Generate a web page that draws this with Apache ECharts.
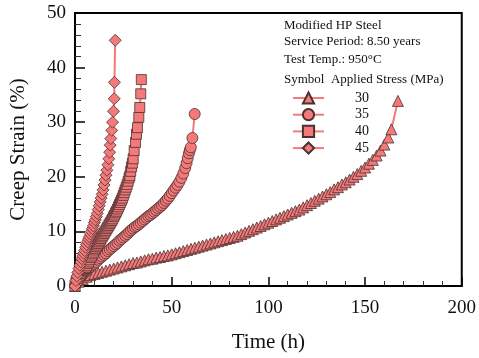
<!DOCTYPE html>
<html>
<head>
<meta charset="utf-8">
<script src="https://cdn.jsdelivr.net/npm/echarts@6/dist/echarts.min.js"></script>
<style>
  html, body { margin: 0; padding: 0; background: #fff; }
  #chart { width: 479px; height: 358px; }
</style>
</head>
<body>
<div id="chart"></div>
<script>
// Creep curves of modified HP steel (8.50 years service), tested at 950 °C
const stressLabels = ['30', '35', '40', '45'];

const time30 = [0, 2, 4, 6, 8, 10, 12, 14, 16, 18, 20, 22, 24, 26, 28, 30, 32, 34, 36, 38,
  40, 42, 44, 46, 48, 50, 52, 54, 56, 58, 60, 62, 64, 66, 68, 70, 72, 74, 76, 78,
  80, 82, 84, 86, 88, 90, 92, 94, 96, 98, 100, 102, 104, 106, 108, 110, 112, 114, 116, 118,
  120, 122, 124, 126, 128, 130, 132, 134, 136, 138, 140, 142, 144, 146, 148, 150, 152, 154, 156, 158,
  160, 162, 163.6, 167];
const strain30 = [0, 0.8, 1.3, 1.7, 2.0, 2.2, 2.4, 2.6, 2.8, 3.0, 3.2, 3.4, 3.6, 3.8, 4.0, 4.2, 4.3, 4.5, 4.7, 4.9,
  5.0, 5.2, 5.3, 5.5, 5.6, 5.8, 6.0, 6.2, 6.4, 6.6, 6.8, 7.0, 7.2, 7.4, 7.6, 7.8, 8.0, 8.2, 8.4, 8.6,
  8.8, 9.0, 9.2, 9.5, 9.8, 10.1, 10.4, 10.7, 11.0, 11.3, 11.6, 11.9, 12.2, 12.5, 12.8, 13.1, 13.4, 13.7, 14.0, 14.4,
  14.8, 15.2, 15.6, 16.0, 16.4, 16.8, 17.2, 17.7, 18.1, 18.6, 19.0, 19.5, 20.0, 20.5, 21.1, 21.7, 22.4, 23.1, 23.9, 24.8,
  25.9, 27.2, 28.7, 33.9];

const time35 = [0, 1, 2, 3, 4, 5, 6, 7, 8, 9, 10, 11, 12, 13, 14, 15, 16, 17, 18, 19,
  20, 21, 22, 23, 24, 25, 26, 27, 28, 29, 30, 31, 32, 33, 34, 35, 36, 37, 38, 39,
  40, 41, 42, 43, 44, 45, 46, 47, 48, 49, 50, 51, 52, 53, 54, 55, 56, 57, 57.7, 58.3,
  58.9, 59.4, 59.9, 60.7, 61.9];
const strain35 = [0, 0.8, 1.3, 1.8, 2.2, 2.5, 2.8, 3.2, 3.5, 3.8, 4.1, 4.4, 4.8, 5.1, 5.4, 5.7, 6.0, 6.4, 6.7, 7.0,
  7.3, 7.6, 7.9, 8.3, 8.6, 8.9, 9.2, 9.5, 9.9, 10.2, 10.5, 10.8, 11.0, 11.3, 11.6, 11.9, 12.2, 12.5, 12.8, 13.0,
  13.3, 13.6, 13.9, 14.2, 14.5, 14.8, 15.2, 15.6, 16.0, 16.5, 17.0, 17.5, 18.0, 18.5, 19.1, 19.8, 20.6, 21.6, 22.5, 23.4,
  24.3, 24.9, 25.4, 27.1, 31.5];

const time40 = [0, 0.5, 1, 1.5, 2, 2.5, 3, 3.5, 4, 4.5, 5, 5.5, 6, 6.5, 7, 7.5, 8, 8.5, 9, 9.5,
  10, 10.5, 11, 11.5, 12, 12.5, 13, 13.5, 14, 14.5, 15, 15.5, 16, 16.5, 17, 17.5, 18, 18.5, 19, 19.5,
  20, 20.5, 21, 21.5, 22, 22.5, 23, 23.5, 24, 24.5, 25, 25.5, 26, 26.5, 27, 27.5, 28, 28.4, 28.8, 29.2,
  29.7, 30.1, 30.6, 31.3, 31.8, 32.3, 33.0, 33.5, 34.0, 34.3];
const strain40 = [0, 0.6, 1.0, 1.4, 1.7, 2.0, 2.3, 2.6, 2.8, 3.0, 3.2, 3.4, 3.7, 4.1, 4.4, 4.8, 5.2, 5.5, 5.9, 6.2,
  6.6, 6.9, 7.2, 7.5, 7.8, 8.1, 8.4, 8.7, 9.0, 9.3, 9.6, 9.9, 10.2, 10.5, 10.8, 11.1, 11.4, 11.7, 12.0, 12.3,
  12.7, 13.0, 13.4, 13.7, 14.1, 14.5, 14.9, 15.3, 15.7, 16.1, 16.6, 17.1, 17.6, 18.1, 18.6, 19.2, 19.8, 20.2, 21.0, 21.8,
  22.5, 23.3, 24.8, 26.3, 27.8, 29.0, 30.9, 32.7, 35.2, 37.8];

const time45 = [0, 0.5, 1, 1.5, 2, 2.5, 3, 3.5, 4, 4.5, 5, 5.5, 6, 6.5, 7, 7.5, 8, 8.5, 9, 9.5,
  10, 10.5, 11, 11.5, 12, 12.5, 13, 13.5, 14, 14.5, 15, 15.5, 16, 16.5, 17, 17.5, 17.9, 18.2, 18.5, 19.0,
  19.4, 19.9, 20.3, 20.4, 20.8];
const strain45 = [0, 1.0, 1.8, 2.5, 3.2, 3.8, 4.4, 5.0, 5.5, 6.0, 6.5, 7.1, 7.6, 8.1, 8.6, 9.0, 9.5, 10.0, 10.5, 11.0,
  11.6, 12.1, 12.7, 13.3, 14.0, 14.7, 15.4, 16.1, 16.8, 17.6, 18.5, 19.4, 20.3, 21.2, 22.2, 23.3, 24.5, 25.8, 27.0, 28.5,
  30.0, 32.0, 34.3, 37.3, 45.0];

const xTicks = [0, 50, 100, 150, 200];
const yTicks = [0, 10, 20, 30, 40, 50];

const headerLines = ['Modified HP Steel', 'Service Period: 8.50 years', 'Test Temp.: 950\u00B0C', 'Symbol  Applied Stress (MPa)'];

const series = [
  { t: time30, s: strain30, symbol: 'triangle', size: 11 },
  { t: time35, s: strain35, symbol: 'circle', size: 11 },
  { t: time40, s: strain40, symbol: 'rect', size: 10 },
  { t: time45, s: strain45, symbol: 'diamond', size: 12 }
];

const SERIF = '"Liberation Serif", "DejaVu Serif", serif';
const FILL = '#F47A7A';
const EDGE = '#4a3030';

const chart = echarts.init(document.getElementById('chart'), null, { renderer: 'canvas' });

chart.setOption({
  animation: false,
  backgroundColor: '#fff',
  grid: { left: 71, right: 16, top: 13, bottom: 70, show: true, borderColor: '#000', borderWidth: 2, backgroundColor: 'transparent' },
  xAxis: {
    type: 'value', min: xTicks[0], max: xTicks[xTicks.length - 1], interval: 50,
    name: 'Time (h)', nameLocation: 'middle', nameGap: 46,
    nameTextStyle: { fontFamily: SERIF, fontSize: 21, color: '#111' },
    axisLine: { show: true, lineStyle: { color: '#000', width: 2 } },
    axisTick: { show: true, inside: true, length: 9, lineStyle: { color: '#000', width: 1.5 } },
    minorTick: { show: true, splitNumber: 5, length: 5, lineStyle: { color: '#333', width: 1 } },
    axisLabel: { fontFamily: SERIF, fontSize: 19, color: '#111', margin: 13 },
    splitLine: { show: false }
  },
  yAxis: {
    type: 'value', min: yTicks[0], max: yTicks[yTicks.length - 1], interval: 10,
    name: 'Creep Strain (%)', nameLocation: 'middle', nameGap: 46,
    nameTextStyle: { fontFamily: SERIF, fontSize: 21, color: '#111' },
    axisLine: { show: true, lineStyle: { color: '#000', width: 2 } },
    axisTick: { show: true, inside: true, length: 10, lineStyle: { color: '#000', width: 1.5 } },
    minorTick: { show: true, splitNumber: 5, length: 6, lineStyle: { color: '#333', width: 1 } },
    axisLabel: { fontFamily: SERIF, fontSize: 19, color: '#111', margin: 9 },
    splitLine: { show: false }
  },
  legend: {
    orient: 'vertical', left: 287, top: 86,
    itemWidth: 31, itemHeight: 14, itemGap: 2.7,
    data: stressLabels,
    textStyle: { fontFamily: SERIF, fontSize: 14, lineHeight: 14, color: '#111', padding: [0, 0, 0, 26] }
  },
  graphic: headerLines.map((txt, i) => ({
    type: 'text', left: 284, top: [19, 35, 53, 73][i],
    style: { text: txt, font: '13px ' + SERIF, fill: '#111' }
  })),
  series: series.map((d, i) => ({
    name: stressLabels[i],
    type: 'line',
    data: d.t.map((t, k) => [t, d.s[k]]),
    symbol: d.symbol,
    symbolSize: d.size,
    showAllSymbol: true,
    lineStyle: { color: FILL, width: 2 },
    itemStyle: { color: FILL, borderColor: EDGE, borderWidth: 0.8 },
    z: 2 + i
  }))
});
</script>
</body>
</html>
